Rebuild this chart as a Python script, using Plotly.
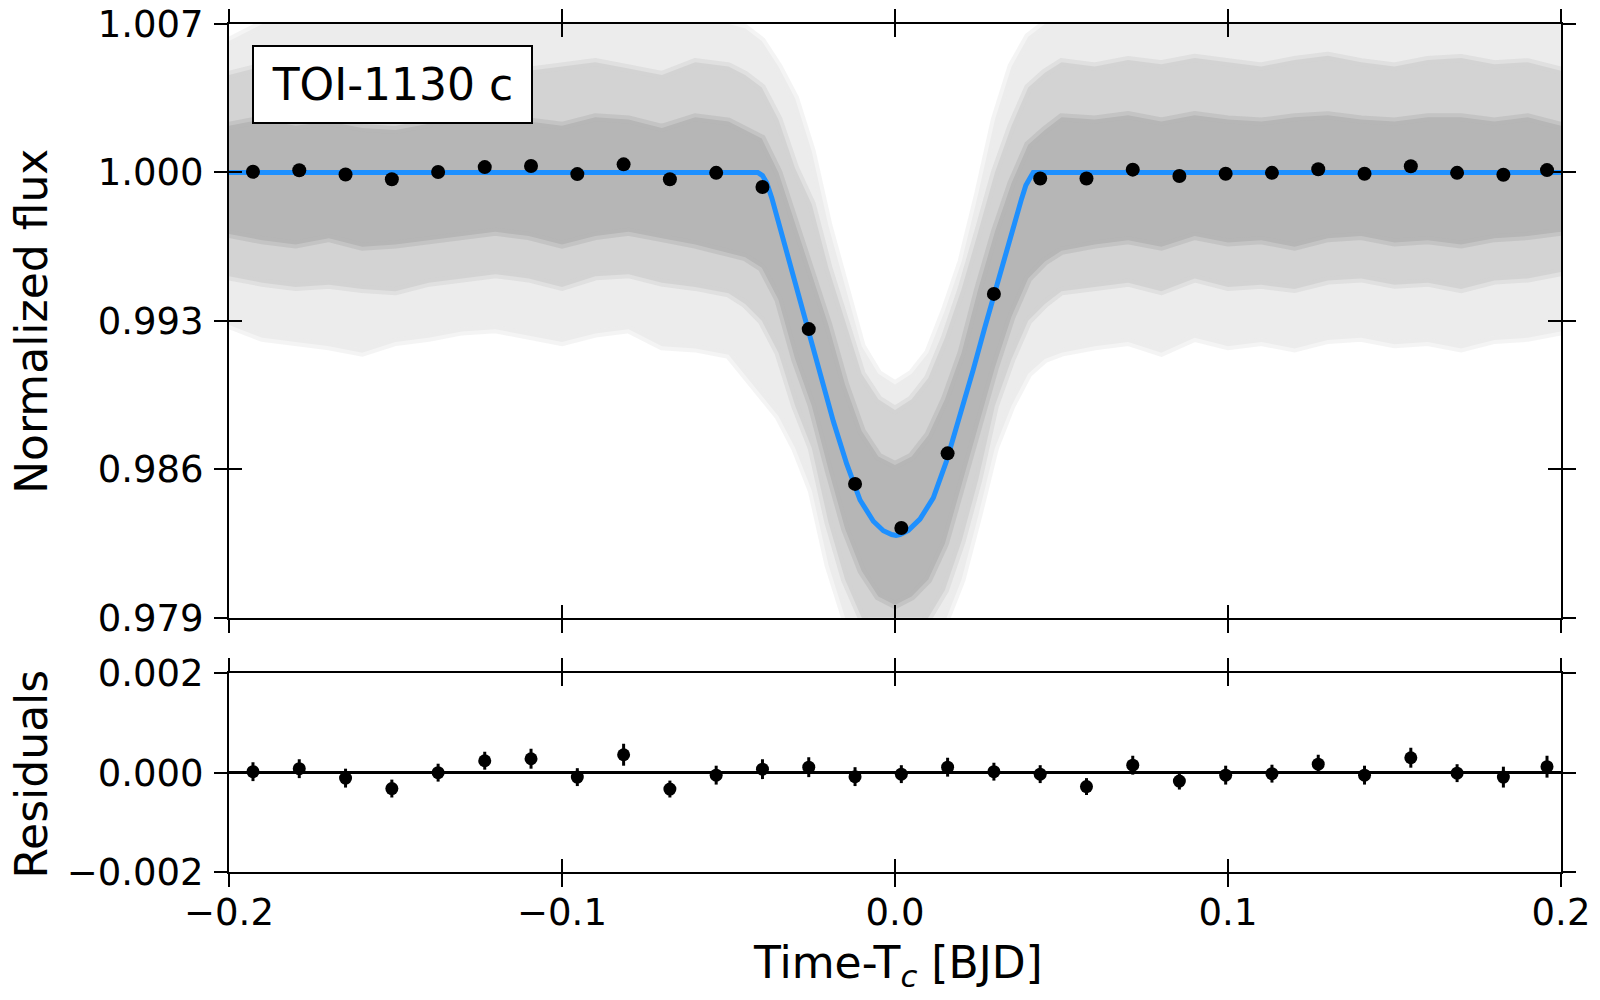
import plotly.graph_objects as go

# binned light curve (black points) and residuals
bin_time = [-0.1928, -0.1789, -0.1650, -0.1511, -0.1372, -0.1232, -0.1093, -0.0954, -0.0815, -0.0676,
            -0.0537, -0.0398, -0.0259, -0.0120, 0.0019, 0.0158, 0.0297, 0.0436, 0.0575, 0.0714,
            0.0854, 0.0993, 0.1132, 0.1271, 0.1410, 0.1549, 0.1688, 0.1827, 0.1958]
bin_flux = [1.00003, 1.00010, 0.99990, 0.99968, 1.00002, 1.00025, 1.00030, 0.99992, 1.00038, 0.99968,
            0.99998, 0.99931, 0.99261, 0.98531, 0.98323, 0.98675, 0.99427, 0.99971, 0.99971, 1.00013,
            0.99983, 0.99994, 0.99998, 1.00015, 0.99994, 1.00029, 0.99998, 0.99989, 1.00011]
residuals = [0.00002, 0.00008, -0.00011, -0.00032, 0.00000, 0.00024, 0.00028, -0.00009, 0.00036, -0.00033,
             -0.00005, 0.00007, 0.00011, -0.00008, -0.00003, 0.00011, 0.00002, -0.00003, -0.00028, 0.00015,
             -0.00017, -0.00005, -0.00002, 0.00017, -0.00005, 0.00030, -0.00001, -0.00009, 0.00012]
resid_err = [0.00019, 0.00019, 0.00019, 0.00018, 0.00018, 0.00018, 0.00020, 0.00018, 0.00022, 0.00017,
             0.00019, 0.00020, 0.00020, 0.00019, 0.00018, 0.00019, 0.00018, 0.00018, 0.00017, 0.00019,
             0.00017, 0.00019, 0.00018, 0.00019, 0.00019, 0.00020, 0.00018, 0.00021, 0.00022]

# transit model (blue line)
model_time = [-0.2, -0.0412, -0.0398, -0.0385, -0.0370, -0.0355, -0.0340, -0.0325, -0.0295, -0.0260,
              -0.0225, -0.0185, -0.0145, -0.0105, -0.0065, -0.0035, -0.0010, 0.0003, 0.0015, 0.0040,
              0.0075, 0.0115, 0.0155, 0.0195, 0.0235, 0.0270, 0.0305, 0.0335, 0.0365, 0.0380,
              0.0393, 0.0405, 0.0415, 0.2]
model_flux = [1.0, 1.0, 0.99985, 0.99950, 0.99880, 0.99795, 0.99710, 0.99622, 0.99448, 0.99255,
              0.99050, 0.98825, 0.98625, 0.98455, 0.98355, 0.98310, 0.98292, 0.98288, 0.98292, 0.98312,
              0.98365, 0.98465, 0.98640, 0.98850, 0.99070, 0.99270, 0.99465, 0.99640, 0.99800, 0.99875,
              0.99940, 0.99980, 1.0, 1.0]

# envelope of the unbinned data cloud (grey)
band_time = [-0.200, -0.190, -0.180, -0.170, -0.160, -0.150, -0.140, -0.130, -0.120, -0.110,
             -0.100, -0.090, -0.080, -0.070, -0.060, -0.050, -0.045, -0.040, -0.035, -0.030,
             -0.025, -0.020, -0.015, -0.010, -0.005, 0.000, 0.005, 0.010, 0.015, 0.020,
             0.025, 0.030, 0.035, 0.040, 0.045, 0.050, 0.060, 0.070, 0.080, 0.090,
             0.100, 0.110, 0.120, 0.130, 0.140, 0.150, 0.160, 0.170, 0.180, 0.190, 0.200]
outer_hi = [1.0062, 1.0070, 1.0072, 1.0072, 1.0072, 1.0072, 1.0072, 1.0072, 1.0072, 1.0072,
            1.0072, 1.0072, 1.0072, 1.0072, 1.0072, 1.0070, 1.0068, 1.0062, 1.0050, 1.0035,
            1.0010, 0.9975, 0.9945, 0.9918, 0.9905, 0.9900, 0.9905, 0.9915, 0.9935, 0.9958,
            0.9990, 1.0025, 1.0050, 1.0064, 1.0070, 1.0072, 1.0072, 1.0072, 1.0072, 1.0072,
            1.0072, 1.0072, 1.0072, 1.0072, 1.0072, 1.0072, 1.0072, 1.0072, 1.0072, 1.0072, 1.0072]
mid_hi = [1.0046, 1.0050, 1.0047, 1.0052, 1.0049, 1.0046, 1.0050, 1.0053, 1.0051, 1.0048,
          1.0050, 1.0052, 1.0049, 1.0046, 1.0052, 1.0050, 1.0046, 1.0040, 1.0025, 1.0002,
          0.9985, 0.9955, 0.9930, 0.9905, 0.9893, 0.9888, 0.9893, 0.9903, 0.9922, 0.9945,
          0.9972, 1.0000, 1.0022, 1.0040, 1.0047, 1.0052, 1.0050, 1.0053, 1.0051, 1.0054,
          1.0052, 1.0050, 1.0053, 1.0055, 1.0052, 1.0050, 1.0053, 1.0054, 1.0051, 1.0052, 1.0048]
core_hi = [1.0022, 1.0025, 1.0022, 1.0024, 1.0021, 1.0020, 1.0023, 1.0026, 1.0025, 1.0024,
           1.0022, 1.0026, 1.0025, 1.0021, 1.0026, 1.0024, 1.0020, 1.0016, 1.0000, 0.9976,
           0.9955, 0.9928, 0.9900, 0.9878, 0.9866, 0.9862, 0.9866, 0.9876, 0.9893, 0.9915,
           0.9945, 0.9972, 0.9995, 1.0013, 1.0020, 1.0026, 1.0025, 1.0027, 1.0024, 1.0027,
           1.0025, 1.0024, 1.0026, 1.0027, 1.0025, 1.0024, 1.0026, 1.0026, 1.0024, 1.0026, 1.0022]
core_lo = [0.9971, 0.9968, 0.9966, 0.9969, 0.9965, 0.9966, 0.9968, 0.9970, 0.9972, 0.9970,
           0.9966, 0.9970, 0.9972, 0.9969, 0.9966, 0.9962, 0.9960, 0.9955, 0.9940, 0.9912,
           0.9890, 0.9860, 0.9832, 0.9812, 0.9800, 0.9796, 0.9800, 0.9808, 0.9825, 0.9850,
           0.9880, 0.9908, 0.9932, 0.9950, 0.9958, 0.9963, 0.9966, 0.9968, 0.9965, 0.9970,
           0.9967, 0.9968, 0.9965, 0.9969, 0.9970, 0.9967, 0.9968, 0.9966, 0.9969, 0.9970, 0.9972]
mid_lo = [0.9951, 0.9948, 0.9946, 0.9947, 0.9945, 0.9944, 0.9948, 0.9950, 0.9952, 0.9950,
          0.9946, 0.9951, 0.9952, 0.9948, 0.9946, 0.9943, 0.9938, 0.9930, 0.9915, 0.9890,
          0.9870, 0.9835, 0.9808, 0.9790, 0.9785, 0.9782, 0.9785, 0.9790, 0.9803, 0.9826,
          0.9855, 0.9890, 0.9912, 0.9930, 0.9938, 0.9944, 0.9946, 0.9948, 0.9944, 0.9950,
          0.9946, 0.9947, 0.9945, 0.9949, 0.9950, 0.9947, 0.9948, 0.9945, 0.9949, 0.9950, 0.9953]
outer_lo = [0.9928, 0.9922, 0.9920, 0.9918, 0.9915, 0.9920, 0.9922, 0.9925, 0.9926, 0.9923,
            0.9920, 0.9924, 0.9926, 0.9918, 0.9917, 0.9914, 0.9905, 0.9895, 0.9885, 0.9870,
            0.9850, 0.9815, 0.9790, 0.9780, 0.9780, 0.9780, 0.9780, 0.9780, 0.9788, 0.9808,
            0.9838, 0.9870, 0.9890, 0.9905, 0.9912, 0.9915, 0.9918, 0.9920, 0.9915, 0.9922,
            0.9918, 0.9920, 0.9917, 0.9921, 0.9922, 0.9919, 0.9920, 0.9917, 0.9921, 0.9922, 0.9925]

x_ticks = [-0.2, -0.1, 0.0, 0.1, 0.2]
flux_ticks = [0.979, 0.986, 0.993, 1.000, 1.007]
resid_ticks = [-0.002, 0.000, 0.002]

FONT = "DejaVu Sans"

fig = go.Figure()

# grey data cloud as three nested bands; a soft half-transparent edge blurs each boundary
for hi, lo, colour, edge in [(outer_hi, outer_lo, "#ececec", "rgba(236,236,236,0.6)"),
                             (mid_hi, mid_lo, "#d3d3d3", "rgba(211,211,211,0.5)"),
                             (core_hi, core_lo, "#b6b6b6", "rgba(182,182,182,0.5)")]:
    fig.add_trace(go.Scatter(x=band_time + band_time[::-1], y=hi + lo[::-1],
                             fill="toself", fillcolor=colour, line=dict(width=8, color=edge),
                             mode="lines", hoverinfo="skip", showlegend=False,
                             xaxis="x", yaxis="y"))

fig.add_trace(go.Scatter(x=model_time, y=model_flux, mode="lines",
                         line=dict(color="#1e90ff", width=5), showlegend=False,
                         xaxis="x", yaxis="y"))

fig.add_trace(go.Scatter(x=bin_time, y=bin_flux, mode="markers",
                         marker=dict(color="black", size=14),
                         error_y=dict(type="data", array=resid_err, color="black", thickness=3, width=0),
                         showlegend=False, xaxis="x", yaxis="y"))

fig.add_trace(go.Scatter(x=bin_time, y=residuals, mode="markers",
                         marker=dict(color="black", size=13),
                         error_y=dict(type="data", array=resid_err, color="black", thickness=3, width=0),
                         showlegend=False, xaxis="x2", yaxis="y2"))

# empty traces so the overlay axes (inner half of the ticks) get drawn
fig.add_trace(go.Scatter(x=[], y=[], xaxis="x3", yaxis="y3", showlegend=False))
fig.add_trace(go.Scatter(x=[], y=[], xaxis="x4", yaxis="y4", showlegend=False))

tick_font = dict(family=FONT, size=37, color="black")
common = dict(showgrid=False, zeroline=False, showline=True, linecolor="black", linewidth=2,
              ticks="outside", ticklen=13, tickwidth=2, tickcolor="black", mirror="ticks",
              tickfont=tick_font, automargin=False, ticklabeloverflow="allow")
inner = dict(showgrid=False, zeroline=False, showline=False, ticks="inside", ticklen=13,
             tickwidth=2, tickcolor="black", mirror="ticks", showticklabels=False, automargin=False)

# the page body adds an 8px offset, so margins are set 8px short of the target
top_dom = [0.2999, 1.0]
bot_dom = [0.0, 0.2343]

fig.update_layout(
    width=1600, height=1000,
    margin=dict(l=221, r=47, t=16, b=136),
    paper_bgcolor="white", plot_bgcolor="white",
    font=dict(family=FONT, color="black"),
    xaxis=dict(domain=[0, 1], anchor="y", range=[-0.2, 0.2], tickvals=x_ticks,
               showticklabels=False, **common),
    yaxis=dict(domain=top_dom, anchor="x", range=[0.979, 1.007], tickvals=flux_ticks,
               tickformat=".3f", ticklabelstandoff=3, **common),
    xaxis2=dict(domain=[0, 1], anchor="y2", range=[-0.2, 0.2], matches="x", tickvals=x_ticks,
                tickformat=".1f", ticklabelstandoff=-6, **common),
    yaxis2=dict(domain=bot_dom, anchor="x2", range=[-0.002, 0.002], tickvals=resid_ticks,
                tickformat=".3f", ticklabelstandoff=3,
                **{**common, "zeroline": True, "zerolinecolor": "black", "zerolinewidth": 3}),
    xaxis3=dict(overlaying="x", anchor="y3", range=[-0.2, 0.2], tickvals=x_ticks, **inner),
    yaxis3=dict(overlaying="y", anchor="x3", range=[0.979, 1.007], tickvals=flux_ticks, **inner),
    xaxis4=dict(overlaying="x2", anchor="y4", range=[-0.2, 0.2], tickvals=x_ticks, **inner),
    yaxis4=dict(overlaying="y2", anchor="x4", range=[-0.002, 0.002], tickvals=resid_ticks, **inner),
    annotations=[
        dict(text="TOI-1130 c", xref="paper", yref="paper", x=0.0173, y=0.9752,
             xanchor="left", yanchor="top", showarrow=False,
             font=dict(family=FONT, size=44, color="black"),
             bgcolor="white", bordercolor="black", borderwidth=2, borderpad=9,
             width=259, height=57),
        dict(text="Normalized flux", xref="paper", yref="paper", x=-0.148, y=0.6498,
             xanchor="center", yanchor="middle", textangle=-90, showarrow=False,
             font=dict(family=FONT, size=44, color="black")),
        dict(text="Residuals", xref="paper", yref="paper", x=-0.148, y=0.116,
             xanchor="center", yanchor="middle", textangle=-90, showarrow=False,
             font=dict(family=FONT, size=44, color="black")),
        dict(text="Time-T<sub><i>c</i></sub> [BJD]", xref="paper", yref="paper", x=0.5019, y=-0.1108,
             xanchor="center", yanchor="middle", showarrow=False,
             font=dict(family=FONT, size=44, color="black")),
    ],
)

fig.write_html("out.html")
